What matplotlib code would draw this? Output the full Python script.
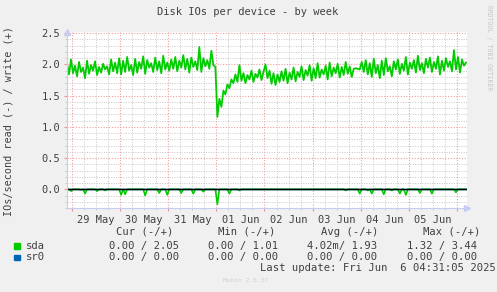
import matplotlib
matplotlib.use('Agg')
import matplotlib.pyplot as plt
from matplotlib.transforms import ScaledTranslation
from matplotlib.patches import Rectangle
import numpy as np
import pandas as pd

# hourly samples from 28 May 21:30 to 06 Jun 04:30
start = '2025-05-28 21:30'
sda_write = [
    2.02, 1.84, 2.08, 1.86, 1.98, 1.81, 2.04, 1.88, 1.95, 1.78, 2.06, 1.85, 1.99,
    1.90, 2.05, 1.83, 1.96, 1.87, 2.01, 1.92, 1.97, 1.84, 2.08, 1.89, 2.03,
    1.86, 2.10, 1.84, 2.06, 1.88, 2.12, 1.90, 1.99, 1.83, 2.09, 1.87, 2.04, 1.93,
    2.13, 1.85, 2.07, 1.95, 2.02, 1.88, 2.11, 1.91, 2.05, 1.86, 2.14, 1.92, 2.03,
    1.90, 2.08, 1.93, 2.12, 1.89, 2.06, 1.95, 2.15, 1.92, 2.09, 1.87, 2.11, 1.96,
    2.05, 1.91, 2.28, 1.88, 2.10, 1.97, 2.07, 1.93, 2.22, 1.99, 1.96,
    1.16, 1.45, 1.32, 1.58, 1.52, 1.68, 1.62, 1.76, 1.70, 1.84, 1.72, 1.99, 1.74,
    1.86, 1.70, 1.83, 1.76, 1.90, 1.72, 1.85, 1.79, 1.92, 1.75, 1.88, 2.00,
    1.78, 1.90, 1.69, 1.86, 1.67, 1.84, 1.72, 1.89, 1.74, 1.93, 1.70, 1.87, 1.76,
    1.95, 1.73, 1.88, 1.80, 1.97, 1.75, 1.91, 1.82, 1.99, 1.74, 1.94, 1.78, 2.02,
    1.79, 1.92, 1.84, 1.98, 1.76, 2.03, 1.81, 1.95, 1.86, 2.01, 1.79, 1.96, 1.83,
    2.04, 1.85, 1.97, 1.80, 1.93, 1.94, 1.93, 1.92,
    2.04, 1.88, 2.07, 1.84, 2.02, 1.80, 2.09, 1.86, 1.99, 1.78, 2.06, 1.83, 2.10,
    1.89, 1.97, 1.81, 2.05, 1.92, 2.08, 1.85, 2.01, 1.90, 2.12, 1.84, 2.03, 1.93,
    2.07, 1.87, 2.14, 1.91, 2.02, 1.86, 2.09, 1.95, 2.11, 1.88, 2.04, 1.93, 2.13,
    1.84, 2.06, 1.90, 2.10, 1.96, 2.05, 1.89, 2.23, 1.92, 2.12, 1.87, 2.08, 1.98,
    2.03,
]

# reads are rare: short dips below zero
read_times = [
    '2025-05-28 23:30', '2025-05-29 04:30', '2025-05-29 06:30', '2025-05-29 12:30',
    '2025-05-29 16:30', '2025-05-30 00:30', '2025-05-30 02:30', '2025-05-30 12:30',
    '2025-05-30 19:30', '2025-05-30 23:30', '2025-05-31 06:30', '2025-05-31 12:30',
    '2025-05-31 17:30', '2025-06-01 00:30', '2025-06-01 06:30', '2025-06-01 11:30',
    '2025-06-03 16:30', '2025-06-03 23:30', '2025-06-04 03:30', '2025-06-04 05:30',
    '2025-06-04 11:30', '2025-06-04 15:30', '2025-06-04 19:30', '2025-06-04 22:30',
    '2025-06-05 05:30', '2025-06-05 11:30', '2025-06-05 23:30',
]
read_vals = [
    -0.03, -0.01, -0.07, -0.03, -0.02, -0.09, -0.08, -0.10, -0.06, -0.09, -0.06,
    -0.07, -0.04, -0.24, -0.07, -0.02, -0.02, -0.07, -0.02, -0.07, -0.08, -0.02,
    -0.07, -0.09, -0.06, -0.07, -0.05,
]

legend_names = ['sda', 'sr0']
legend_colors = ['#00CC00', '#0066B3']
col_heads = ['Cur (-/+)', 'Min (-/+)', 'Avg (-/+)', 'Max (-/+)']
cur_vals = ['0.00 / 2.05', '0.00 / 0.00']
min_vals = ['0.00 / 1.01', '0.00 / 0.00']
avg_vals = ['4.02m/ 1.93', '0.00 / 0.00']
max_vals = ['1.32 / 3.44', '0.00 / 0.00']

times = pd.date_range(start, periods=len(sda_write), freq='h')
sda_read = np.zeros(len(times))
for t, v in zip(read_times, read_vals):
    sda_read[times.get_loc(pd.Timestamp(t))] = v
sr0 = np.zeros(len(times))

W, H = 497, 292
font = 'DejaVu Sans Mono'
txt = '#404040'
plt.rcParams['font.family'] = font

fig = plt.figure(figsize=(W / 100, H / 100), dpi=100, facecolor='#F0F0F0')
ax = fig.add_axes([67 / W, 1 - 208 / H, 400 / W, 176 / H])
ax.set_facecolor('white')

ax.plot(times, sda_write, color='#00CC00', lw=1.3)
ax.plot(times, sda_read, color='#00CC00', lw=1.2)
ax.plot(times, sr0, color='#0066B3', lw=1.0)
ax.axhline(0, color='black', lw=1.0)

ax.set_xlim(pd.Timestamp('2025-05-28 21:30'), pd.Timestamp('2025-06-06 05:00'))
ax.set_ylim(-0.30, 2.52)

days = pd.date_range('2025-05-29', '2025-06-06', freq='D')
ax.set_xticks(days)
ax.set_xticklabels([d.strftime('%d %b') for d in days[:-1]] + [''])
ax.set_xticks(pd.date_range('2025-05-29 00:00', '2025-06-06 00:00', freq='6h'), minor=True)
ax.set_yticks(np.arange(0, 2.51, 0.5))
ax.set_yticklabels(['%.1f' % v for v in np.arange(0, 2.51, 0.5)])
ax.set_yticks(np.arange(-0.3, 2.51, 0.1), minor=True)

ax.grid(which='major', color='#F0A0A0', linestyle=(0, (1, 1.5)), lw=0.8)
ax.grid(which='minor', color='#C8C8C8', linestyle=(0, (1, 1.5)), lw=0.7)
ax.set_axisbelow(True)
ax.tick_params(which='major', length=2, color='#F09090', labelsize=7.5,
               labelcolor=txt, pad=3)
ax.tick_params(which='minor', length=1.5, color='#C8C8C8')

# day names sit in the middle of each day
shift = ScaledTranslation(24 / 100, 0, fig.dpi_scale_trans)
for lab in ax.get_xticklabels():
    lab.set_transform(lab.get_transform() + shift)

for s in ['top', 'right']:
    ax.spines[s].set_visible(False)
for s in ['left', 'bottom']:
    ax.spines[s].set_color('#C8CCF0')
ax.plot([1.0], [0], marker='>', color='#C8CCF0', markersize=4,
        transform=ax.transAxes, clip_on=False)
ax.plot([0], [1.0], marker='^', color='#C8CCF0', markersize=4,
        transform=ax.transAxes, clip_on=False)


def fx(x):
    return x / W


def fy(y):
    return 1 - y / H


fig.text(fx(248), fy(12), 'Disk IOs per device - by week', ha='center',
         va='center', fontsize=7.5, color=txt)
fig.text(fx(9), fy(121), 'IOs/second read (-) / write (+)', rotation=90,
         ha='center', va='center', fontsize=7.3, color=txt)
fig.text(fx(489), fy(5), 'RRDTOOL / TOBI OETIKER', rotation=270, ha='center',
         va='top', fontsize=4.7, color='#C8C8C8')

head_x = [116, 218, 321, 423]
val_x = [109, 208, 307, 407]
for h, x in zip(col_heads, head_x):
    fig.text(fx(x), fy(232), h, va='center', fontsize=7.6, color=txt)
rows_y = [245.7, 257.3]
for i, name in enumerate(legend_names):
    y = rows_y[i]
    fig.add_artist(Rectangle((fx(14), fy(y + 3)), 5.5 / W, 5.5 / H,
                             transform=fig.transFigure, color=legend_colors[i]))
    fig.text(fx(26), fy(y), name, va='center', fontsize=7.6, color=txt)
    for col, x in zip([cur_vals, min_vals, avg_vals, max_vals], val_x):
        fig.text(fx(x), fy(y), col[i], va='center', fontsize=7.6, color=txt)
fig.text(fx(260), fy(268.3), 'Last update: Fri Jun  6 04:31:05 2025',
         va='center', fontsize=7.6, color=txt)
fig.text(fx(223), fy(281), 'Munin 2.0.37', va='center', fontsize=4.5,
         color='#D0D0D0')

fig.savefig('out.png', dpi=100, facecolor=fig.get_facecolor())
